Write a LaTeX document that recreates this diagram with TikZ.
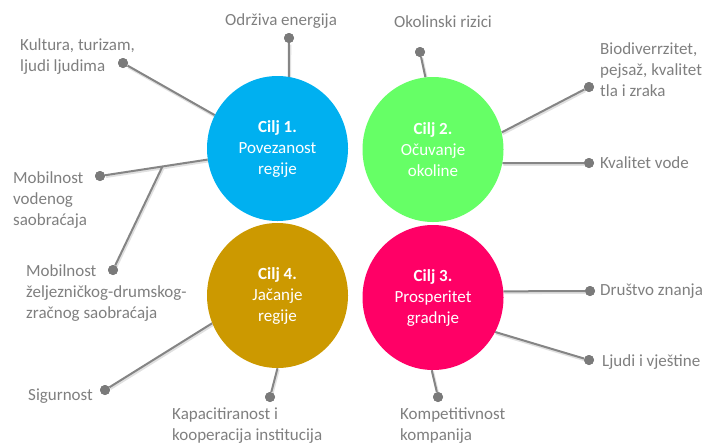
\documentclass[tikz,border=0pt]{standalone}
\usepackage{fontspec}
\setmainfont{Carlito}
\usetikzlibrary{shapes.geometric,calc}
\definecolor{cblue}{HTML}{00B0F0}
\definecolor{cgreen}{HTML}{66FF66}
\definecolor{cgold}{HTML}{CC9900}
\definecolor{cpink}{HTML}{FF0066}
\definecolor{tgray}{HTML}{7F7F7F}
\definecolor{lgray}{HTML}{858585}
\definecolor{dgray}{HTML}{7A7A7A}
\tikzset{
  goal/.style={ellipse, minimum width=141pt, minimum height=145pt, inner sep=0pt,
    text=white, align=center, font=\fontsize{17}{21}\selectfont},
  dotnode/.style={circle, fill=dgray, inner sep=0pt, minimum size=10pt},
  lbl/.style={text=tgray, inner sep=0pt, align=left, font=\fontsize{17}{21}\selectfont},
  conn/.style={draw=lgray, line width=2pt,
    preaction={draw=black!12, line width=3pt, transform canvas={shift={(0.8pt,-1.3pt)}}}}
}
\begin{document}
\begin{tikzpicture}[x=1pt,y=-1pt]
\useasboundingbox (0,0) rectangle (708,445);
% goal circles (positions only; drawn later on top)
\path (277.5,148.5) node[goal] (c1) {};
\path (433,149.5) node[goal] (c2) {};
\path (433,297.5) node[goal] (c3) {};
\path (277.5,295.5) node[goal] (c4) {};
% dots
\node[dotnode] (d1) at (289,38) {};
\node[dotnode] (d2) at (123,63) {};
\node[dotnode] (d3) at (100,176) {};
\node[dotnode] (d4) at (113,270) {};
\node[dotnode] (d5) at (105,390) {};
\node[dotnode] (d6) at (270,397) {};
\node[dotnode] (d7) at (420,52) {};
\node[dotnode] (d8) at (589,87) {};
\node[dotnode] (d9) at (589,163) {};
\node[dotnode] (d10) at (590,291) {};
\node[dotnode] (d11) at (589,360) {};
\node[dotnode] (d12) at (438,397) {};
% connectors
\coordinate (br) at ($(d3)!0.58!(c1.189)$);
\draw[conn] (d1) -- (c1.81);
\draw[conn] (d2) -- (c1.152);
\draw[conn] (d3) -- (c1.189);
\draw[conn] (d4) -- (br);
\draw[conn] (d7) -- (c2.96);
\draw[conn] (d8) -- (c2.14);
\draw[conn] (d9) -- (c2.349);
\draw[conn] (d10) -- (c3.5);
\draw[conn] (d11) -- (c3.331);
\draw[conn] (d12) -- (c3.269);
\draw[conn] (d5) -- (c4.203);
\draw[conn] (d6) -- (c4.270);
% redraw dots on top
\foreach \d in {d1,d2,d3,d4,d5,d6,d7,d8,d9,d10,d11,d12}
  \fill[dgray] (\d) circle[radius=5pt];
% circles
\node[goal, fill=cblue] at (c1) {\textbf{Cilj 1.}\\Povezanost\\regije};
\node[goal, fill=cgreen] at (c2) {\textbf{Cilj 2.}\\Očuvanje\\okoline};
\node[goal, fill=cpink] at (c3) {\textbf{Cilj 3.}\\Prosperitet\\gradnje};
\node[goal, fill=cgold] at (c4) {\textbf{Cilj 4.}\\Jačanje\\regije};
% labels
\node[lbl] (t1) at (281,21) {Održiva energija};
\node[lbl, anchor=west] (t2) at (20,57) {Kultura, turizam,\\ljudi ljudima};
\node[lbl, anchor=west] (t3) at (13,200) {Mobilnost\\vodenog\\saobraćaja};
\node[lbl, anchor=west] (t4) at (26,293) {Mobilnost\\željezničkog-drumskog-\\zračnog saobraćaja};
\node[lbl, anchor=west] (t5) at (28,396) {Sigurnost};
\node[lbl, anchor=west] (t6) at (172,426) {Kapacitiranost i\\kooperacija institucija};
\node[lbl] (t7) at (443,22) {Okolinski rizici};
\node[lbl, anchor=west] (t8) at (600,70) {Biodiverrzitet,\\pejsaž, kvalitet\\tla i zraka};
\node[lbl, anchor=west] (t9) at (600,163) {Kvalitet vode};
\node[lbl, anchor=west] (t10) at (600,291) {Društvo znanja};
\node[lbl, anchor=west] (t11) at (602,362) {Ljudi i vještine};
\node[lbl, anchor=west] (t12) at (400,426) {Kompetitivnost\\kompanija};
\end{tikzpicture}
\end{document}
